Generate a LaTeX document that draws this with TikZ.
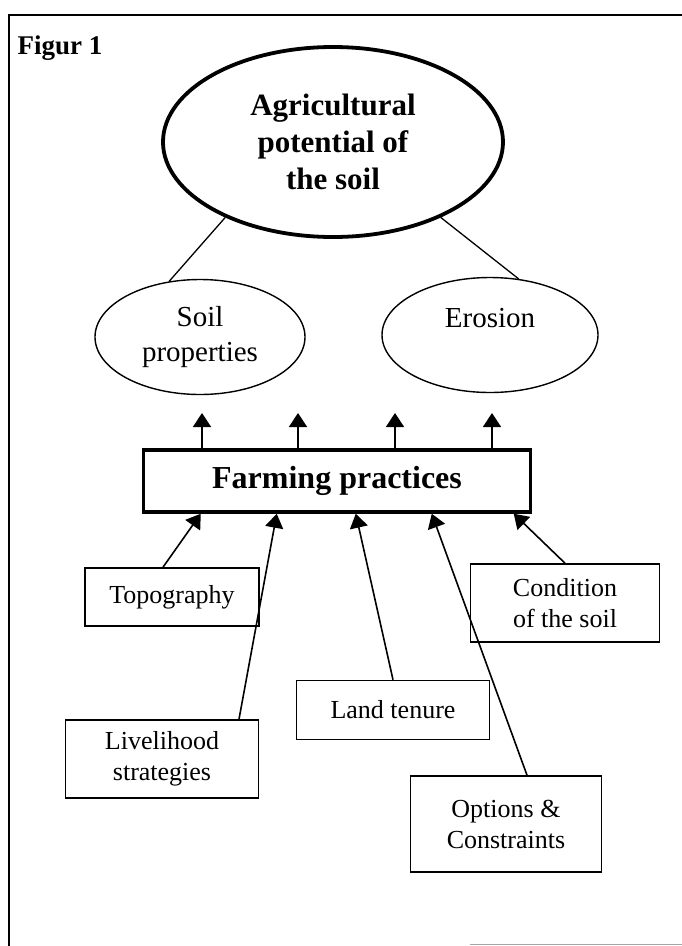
\documentclass[tikz,border=0pt]{standalone}
\usepackage{fontspec}
\setmainfont{Liberation Serif}
\usepackage{tikz}
\usetikzlibrary{shapes.geometric,arrows.meta,positioning,calc}
\tikzset{
  bigoval/.style={ellipse, draw, line width=3.8pt, inner sep=0pt, align=center,
    font={\fontsize{31}{37}\selectfont\bfseries}},
  oval/.style={ellipse, draw, line width=1.4pt, inner sep=0pt, align=center,
    font={\fontsize{29}{35}\selectfont}},
  mainbox/.style={rectangle, draw, line width=3.5pt, inner sep=0pt,
    font={\fontsize{32}{38}\selectfont\bfseries}},
  factorbox/.style={rectangle, draw, line width=1.6pt, inner sep=0pt, align=center,
    font={\fontsize{26}{31}\selectfont}},
  link/.style={line width=1.3pt},
  pointer/.style={line width=1.6pt, -{Triangle[length=14pt,width=18pt]}},
}

\begin{document}
\begin{tikzpicture}[x=1pt, y=-1pt]
  \useasboundingbox (0,0) rectangle (682,946);
  % frame
  \draw[line width=1.2pt] (9,946) -- (9,15) -- (682,15);
  \draw[line width=1pt, black!35] (470,944) -- (682,944);

  % Define nodes
  \node[anchor=west, font={\fontsize{27}{34}\selectfont\bfseries}] (title) at (14,48) {Figur 1};
  \node[bigoval, minimum width=340, minimum height=190] (potential) at (333,142)
    {Agricultural\\potential of\\the soil};
  \node[oval, minimum width=210, minimum height=115] (soil) at (200,337) {Soil\\properties};
  \node[oval, minimum width=216, minimum height=115] (erosion) at (490,335) {Erosion\\~};
  \node[mainbox, minimum width=387, minimum height=62] (farming) at (337,481) {Farming practices};
  \node[factorbox, minimum width=174, minimum height=58] (topo) at (172,597) {Topography};
  \node[factorbox, minimum width=193, minimum height=78] (liveli) at (162,759) {Livelihood\\strategies};
  \node[factorbox, minimum width=193, minimum height=59] (tenure) at (393,710) {Land tenure};
  \node[factorbox, minimum width=189, minimum height=78] (cond) at (565,603) {Condition\\of the soil};
  \node[factorbox, minimum width=191, minimum height=96] (options) at (506,824) {Options \&\\Constraints};

  % free ends of the effects
  \coordinate (e1) at (202,413);
  \coordinate (e2) at (298,413);
  \coordinate (e3) at (395,413);
  \coordinate (e4) at (492,413);

  % Connect the nodes
  \draw[link] (potential.215) -- (soil.119);
  \draw[link] (potential.325) -- (erosion.63);
  \draw[pointer] (farming.north -| e1) -- (e1);
  \draw[pointer] (farming.north -| e2) -- (e2);
  \draw[pointer] (farming.north -| e3) -- (e3);
  \draw[pointer] (farming.north -| e4) -- (e4);
  \draw[pointer] ($(topo.north)+(-9,0)$) -- ($(farming.south west)+(59,0)$);
  \draw[pointer] ($(liveli.north)+(77,0)$) -- ($(farming.south west)+(135,0)$);
  \draw[pointer] (tenure.north) -- ($(farming.south west)+(214,0)$);
  \draw[pointer] ($(options.north)+(21,0)$) -- ($(farming.south west)+(290,0)$);
  \draw[pointer] (cond.north) -- ($(farming.south west)+(372,0)$);
\end{tikzpicture}
\end{document}
